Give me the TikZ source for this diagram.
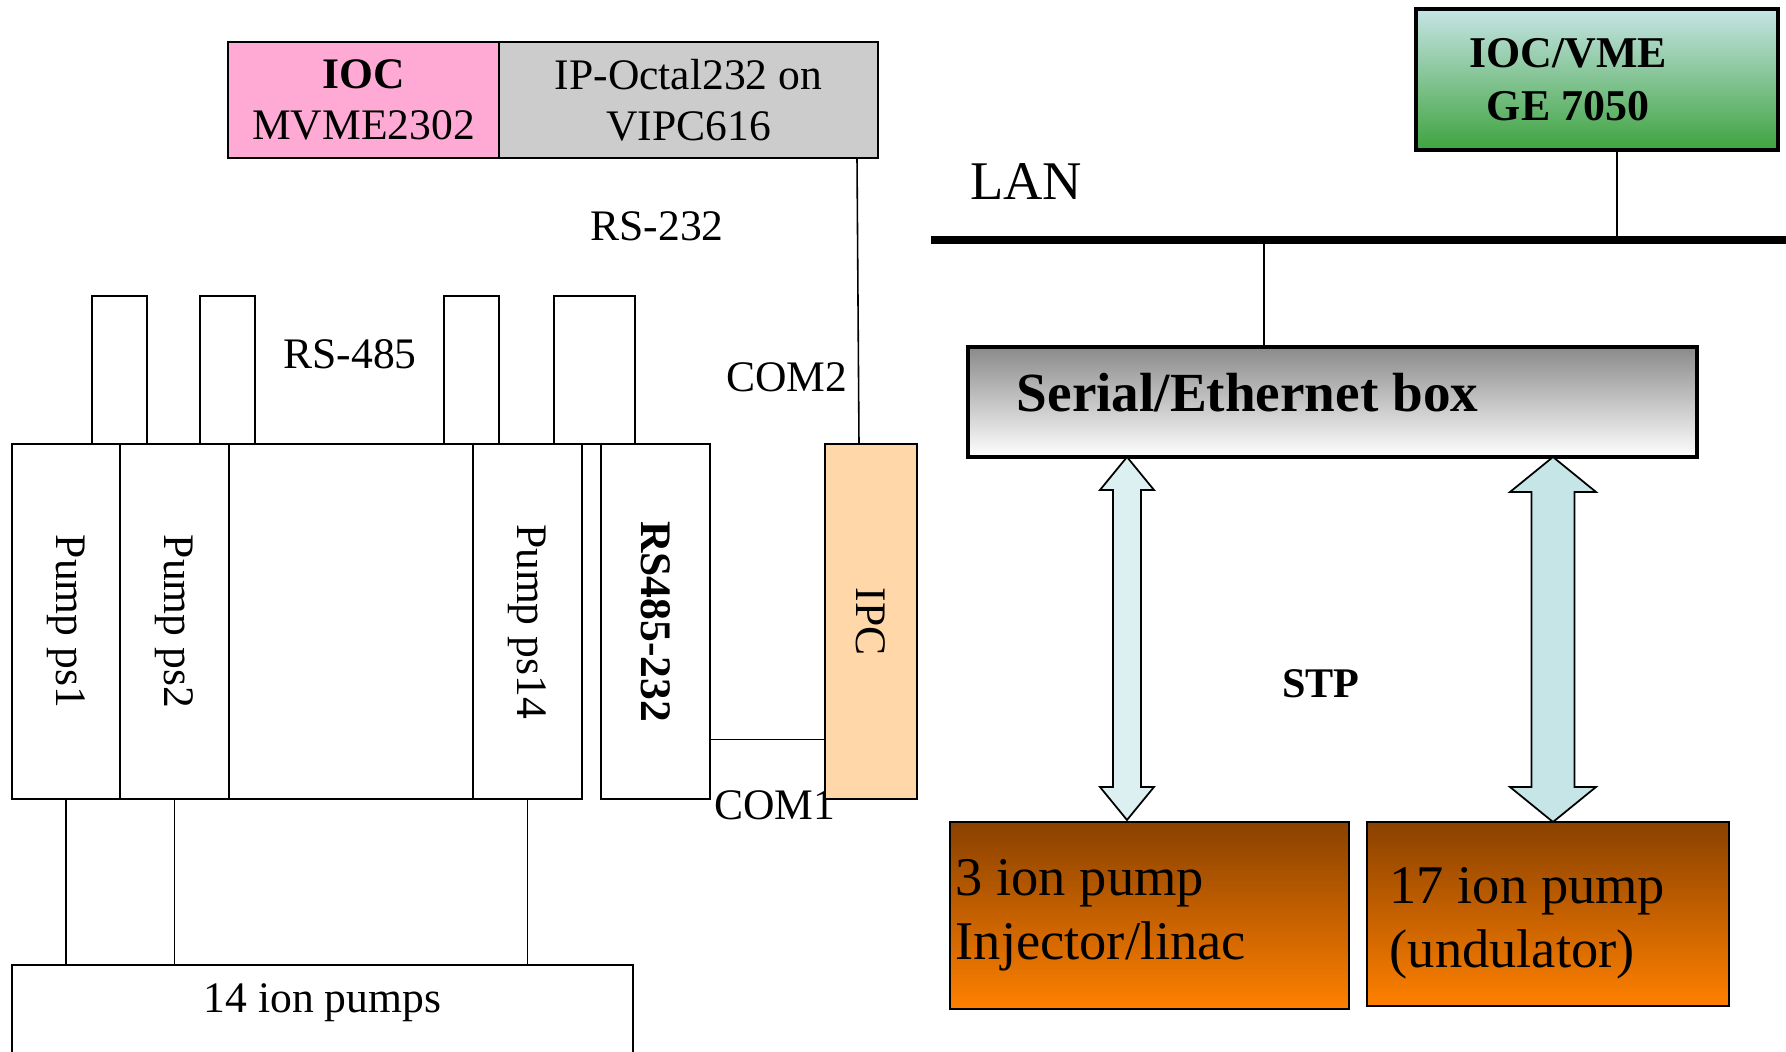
\documentclass[tikz,border=0pt]{standalone}
\usepackage{fontspec}
\setmainfont{Liberation Serif}
\usepackage{graphicx}
\usepackage{tikz}
\usetikzlibrary{positioning,calc}

\definecolor{iocpink}{HTML}{FFAAD4}
\definecolor{octalgray}{HTML}{CCCCCC}
\definecolor{ipcpeach}{HTML}{FFD7A8}
\definecolor{vmetop}{HTML}{C6E4E6}
\definecolor{vmebot}{HTML}{3FA33F}
\definecolor{serialtop}{HTML}{8A8A8A}
\definecolor{pumptop}{HTML}{8A4100}
\definecolor{pumpbot}{HTML}{FF8000}
\definecolor{arrowlite}{HTML}{DCEFF1}
\definecolor{arrowdark}{HTML}{C5E5E7}

% fat double arrow: top tip, bottom tip, half shaft, half head, head length, fill
\newcommand{\fatarrow}[6]{%
  \draw[line width=0.5pt, fill=#6] (#1) -- ++(#4,-#5) -- ++({#3-#4},0) -- ($(#2)+(#3,#5)$)
    -- ++({#4-#3},0) -- (#2) -- ++(-#4,#5) -- ++({#4-#3},0) -- ($(#1)+(-#3,-#5)$)
    -- ++({#3-#4},0) -- cycle;}

\begin{document}
\begin{tikzpicture}[
  txt/.style={font=\fontsize{12.4}{14.4}\selectfont},
  big/.style={font=\fontsize{15.5}{18.2}\selectfont},
  box/.style={draw, line width=0.55pt, inner sep=0pt, outer sep=0pt, anchor=north west, txt},
  wire/.style={line width=0.45pt}
]
\useasboundingbox (0,0) rectangle (17.86,-10.52);

% left part: IOC and the RS-485 chain
\node[box, fill=iocpink, align=center, minimum width=2.71cm, minimum height=1.16cm] (ioc) at (2.28,-0.42) {\textbf{IOC}\\MVME2302};
\node[box, fill=octalgray, align=center, minimum width=3.79cm, minimum height=1.16cm] (octal) at (ioc.north east) {IP-Octal232 on\\VIPC616};

\foreach \xa/\xb in {0.92/1.47, 2.00/2.55, 4.44/4.99, 5.54/6.35}
  \draw[line width=0.55pt] (\xa,-4.44) rectangle (\xb,-2.96);

\node[box, minimum width=1.08cm, minimum height=3.55cm] (ps1) at (0.12,-4.44) {\rotatebox{-90}{Pump ps1}};
\node[box, minimum width=1.09cm, minimum height=3.55cm, right=0pt of ps1] (ps2) {\rotatebox{-90}{Pump ps2}};
\node[box, minimum width=2.44cm, minimum height=3.55cm, right=0pt of ps2] (psmid) {};
\node[box, minimum width=1.09cm, minimum height=3.55cm, right=0pt of psmid] (ps14) {\rotatebox{-90}{Pump ps14}};
\node[box, minimum width=1.09cm, minimum height=3.55cm] (rs485) at (6.01,-4.44) {\rotatebox{-90}{\textbf{RS485-232}}};

\node[txt] (com1) at (7.75,-8.05) {COM1};
\node[box, fill=ipcpeach, minimum width=0.92cm, minimum height=3.55cm] (ipc) at (8.25,-4.44) {\rotatebox{-90}{IPC}};

\node[box, minimum width=6.21cm, minimum height=0.88cm,
  label={[txt, yshift=0.065cm]center:14 ion pumps}] (ionpumps) at (0.12,-9.65) {};

\node[txt] (rs232) at (6.57,-2.26) {RS-232};
\node[txt] (rs485lbl) at (3.50,-3.54) {RS-485};
\node[txt] (com2) at (7.87,-3.77) {COM2};

\draw[wire] ([xshift=-0.21cm]octal.south east) -- ([xshift=0.34cm]ipc.north west);
\draw[wire] ([yshift=-1.18cm]rs485.east) -- ([yshift=-1.18cm]ipc.west);
\foreach \p in {ps1,ps2,ps14}
  \draw[wire] (\p.south) -- (\p.south |- ionpumps.north);

% right part: LAN and serial/ethernet box
\node[big] (lan) at (10.26,-1.82) {LAN};
\coordinate (lanL) at (9.31,-2.40);
\coordinate (lanR) at (17.86,-2.40);
\draw[line width=2.3pt] (lanL) -- (lanR);

\node[box, line width=1pt, top color=vmetop, bottom color=vmebot, minimum width=3.62cm, minimum height=1.41cm,
  label={[font=\fontsize{12.5}{15.1}\selectfont\bfseries, align=center, xshift=-0.29cm]center:IOC/VME\\GE 7050}] (iocvme) at (14.16,-0.09) {};
\node[box, line width=1pt, top color=serialtop, bottom color=white, minimum width=7.29cm, minimum height=1.10cm,
  label={[font=\fontsize{15.7}{18.8}\selectfont\bfseries, xshift=-0.85cm, yshift=0.09cm]center:Serial/Ethernet box}] (serial) at (9.68,-3.47) {};

\draw[wire] ([xshift=0.20cm]iocvme.south) -- ([xshift=0.20cm]iocvme.south |- lanL);
\draw[wire] ([xshift=-0.685cm]serial.north) -- ([xshift=-0.685cm]serial.north |- lanL);

\node[box, top color=pumptop, bottom color=pumpbot, minimum width=3.99cm, minimum height=1.87cm,
  label={[big, align=left, anchor=west, inner xsep=0.05cm]west:3 ion pump\\Injector/linac}] (inj) at (9.50,-8.22) {};
\node[box, top color=pumptop, bottom color=pumpbot, minimum width=3.62cm, minimum height=1.84cm,
  label={[big, align=left, anchor=west, inner xsep=0.22cm, yshift=-0.095cm]west:17 ion pump\\(undulator)}] (und) at (13.67,-8.22) {};

\coordinate (stpaT) at ([xshift=-2.055cm]serial.south);
\coordinate (stpaB) at ([xshift=-0.225cm,yshift=0.02cm]inj.north);
\coordinate (stpbT) at ([xshift=2.205cm]serial.south);
\coordinate (stpbB) at ([xshift=0.05cm]und.north);
\fatarrow{stpaT}{stpaB}{0.14}{0.27}{0.33}{arrowlite}
\fatarrow{stpbT}{stpbB}{0.215}{0.43}{0.35}{arrowdark}

\node[font=\fontsize{12}{14}\selectfont\bfseries] (stp) at (13.21,-6.84) {STP};
\end{tikzpicture}
\end{document}
